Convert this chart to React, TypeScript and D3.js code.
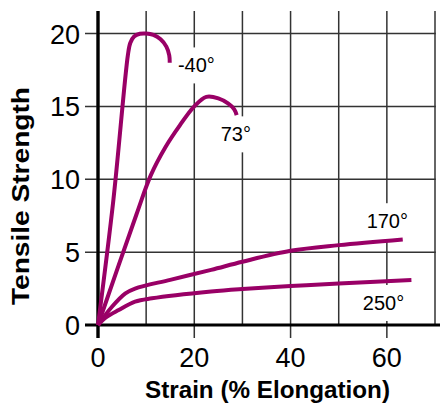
import React, { useEffect, useRef } from "react";
import * as d3 from "d3";

const xTicks = [0, 20, 40, 60];
const xGrid = [0, 10, 20, 30, 40, 50, 60, 70];
const yTicks = [0, 5, 10, 15, 20];

const strainM40 = [0, 3.2, 6.2, 6.7, 7.5, 8.7, 10, 11.5, 13, 14.2, 14.8, 14.9];
const stressM40 = [0, 8.6, 18.5, 19.35, 19.8, 19.98, 20, 19.9, 19.6, 19.1, 18.5, 18.0];

const strain73 = [0, 8, 11, 14, 17, 20, 22.5, 25, 27, 28.3, 28.8];
const stress73 = [0, 7.6, 10.3, 12.2, 13.7, 15, 15.65, 15.55, 15.2, 14.8, 14.4];

const strain170 = [0, 2.9, 5.7, 7.7, 15, 23.5, 30, 40, 50, 63.3];
const stress170 = [0, 1.25, 2.17, 2.5, 3.1, 3.78, 4.34, 5.09, 5.48, 5.87];

const strain250 = [0, 1.8, 4.3, 7.7, 11.2, 23.5, 30, 40, 50, 65.1];
const stress250 = [0, 0.55, 1.03, 1.6, 1.83, 2.3, 2.47, 2.67, 2.85, 3.08];

const seriesNames = ["-40°", "73°", "170°", "250°"];
const seriesX = [strainM40, strain73, strain170, strain250];
const seriesY = [stressM40, stress73, stress170, stress250];
// label anchor (data units): start x, baseline y
const labelX = [16.6, 25.5, 55.8, 55.0];
const labelY = [17.33, 12.6, 6.64, 1.03];

export default function App() {
  const ref = useRef<SVGSVGElement>(null);
  useEffect(() => {
    const svg = d3.select(ref.current);
    svg.selectAll("*").remove();
    const x = d3.scaleLinear().domain([0, 70]).range([98, 435]);
    const y = d3.scaleLinear().domain([0, 20]).range([325, 33.5]);
    const top = y(21.54);
    const color = "#990066";
    const grid = svg.append("g");
    // vertical grid
    xGrid.forEach((v) => {
      const hasTick = xTicks.includes(v);
      grid.append("line")
        .attr("x1", x(v)).attr("x2", x(v))
        .attr("y1", top).attr("y2", hasTick ? y(0) + 13 : y(0))
        .attr("stroke", "#333").attr("stroke-width", v === 0 ? 3 : 1.5);
    });
    yTicks.forEach((v) => {
      grid.append("line")
        .attr("x1", x(0) - 13).attr("x2", v === 0 ? 440 : x(70) + 0.75)
        .attr("y1", y(v)).attr("y2", y(v))
        .attr("stroke", v === 0 ? "#000" : "#333").attr("stroke-width", v === 0 ? 3 : 1.5);
    });
    // y axis thick
    svg.append("line").attr("x1", x(0)).attr("x2", x(0)).attr("y1", top).attr("y2", y(0) + 13)
      .attr("stroke", "#000").attr("stroke-width", 3);

    // tick labels
    const font = "'Liberation Sans', Arial, sans-serif";
    yTicks.forEach((v) => {
      svg.append("text").attr("x", 80).attr("y", y(v) + 10).attr("text-anchor", "end")
        .attr("font-family", font).attr("font-size", 27).attr("fill", "#000").text(String(v));
    });
    xTicks.forEach((v) => {
      svg.append("text").attr("x", x(v)).attr("y", 367).attr("text-anchor", "middle")
        .attr("font-family", font).attr("font-size", 27).attr("fill", "#000").text(String(v));
    });

    // labels with white boxes
    seriesNames.forEach((name, i) => {
      const g = svg.append("g");
      const t = g.append("text").attr("x", x(labelX[i])).attr("y", y(labelY[i]))
        .attr("font-family", font).attr("font-size", 20).attr("fill", "#000").text(name);
      const bb = (t.node() as SVGTextElement).getBBox();
      g.insert("rect", "text").attr("x", bb.x - 2).attr("y", bb.y - 7)
        .attr("width", bb.width + 4).attr("height", bb.height + 14).attr("fill", "#fff");
    });

    // curves
    const line = d3.line<[number, number]>()
      .x((d) => x(d[0])).y((d) => y(d[1]))
      .curve(d3.curveCatmullRom.alpha(0.5));
    seriesX.forEach((xs, i) => {
      const pts: [number, number][] = xs.map((v, j) => [v, seriesY[i][j]]);
      svg.append("path").attr("d", line(pts)).attr("fill", "none")
        .attr("stroke", color).attr("stroke-width", 4).attr("stroke-linecap", "butt")
        .attr("stroke-linejoin", "round");
    });

    // axis titles
    svg.append("text").attr("x", 267.5).attr("y", 398).attr("text-anchor", "middle")
      .attr("font-family", font).attr("font-weight", "bold").attr("font-size", 24)
      .attr("textLength", 245).attr("lengthAdjust", "spacingAndGlyphs")
      .text("Strain (% Elongation)");
    svg.append("text").attr("transform", "translate(28.5,196) rotate(-90)")
      .attr("text-anchor", "middle")
      .attr("font-family", font).attr("font-weight", "bold").attr("font-size", 24)
      .attr("textLength", 218).attr("lengthAdjust", "spacingAndGlyphs")
      .text("Tensile Strength");
  }, []);
  return (
    <svg ref={ref} width={440} height={406}
      style={{ position: "absolute", left: 0, top: 0, background: "#fff" }} />
  );
}
